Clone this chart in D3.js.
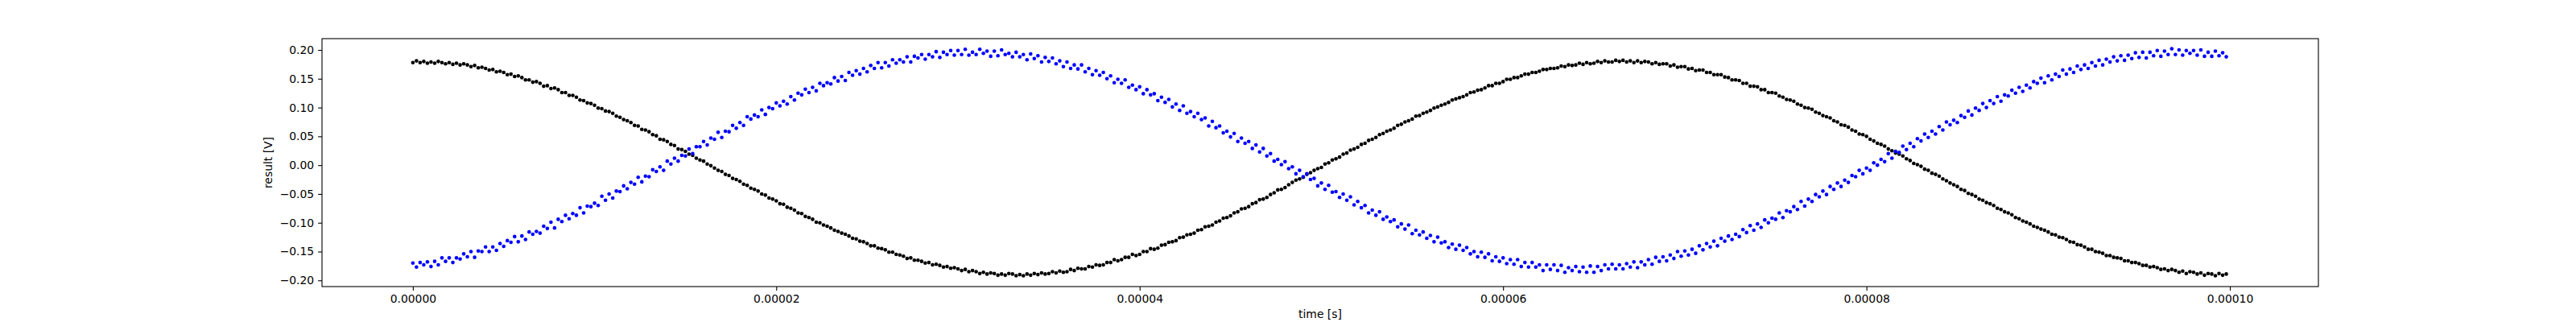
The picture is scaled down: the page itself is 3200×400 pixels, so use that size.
<!DOCTYPE html>
<html>
<head>
<meta charset="utf-8">
<script src="https://cdn.jsdelivr.net/npm/d3@7"></script>
<style>
  body { margin: 0; background: #fff; }
  text { font-family: "DejaVu Sans", sans-serif; }
</style>
</head>
<body>
<div id="chart"></div>
<script>
// sampling step of both channels (s)
const sampleStep = 0.2e-6

// channel 1 (black), volts, one row per microsecond
const blackValues = [
  0.178, 0.181, 0.178, 0.180, 0.177,   0.179, 0.177, 0.180, 0.178, 0.176,
  0.178, 0.175, 0.177, 0.174, 0.176,   0.174, 0.171, 0.173, 0.169, 0.170,
  0.168, 0.165, 0.166, 0.162, 0.163,   0.161, 0.157, 0.158, 0.154, 0.155,
  0.152, 0.148, 0.148, 0.144, 0.145,   0.142, 0.137, 0.138, 0.133, 0.134,
  0.131, 0.126, 0.126, 0.121, 0.121,   0.118, 0.113, 0.112, 0.108, 0.107,
  0.104, 0.099, 0.098, 0.094, 0.093,   0.090, 0.085, 0.083, 0.079, 0.077,
  0.074, 0.069, 0.068, 0.062, 0.061,   0.058, 0.053, 0.051, 0.045, 0.044,
  0.041, 0.036, 0.034, 0.028, 0.027,   0.024, 0.019, 0.017, 0.012, 0.009,
  0.007, 0.002, -0.001, -0.005, -0.009,   -0.011, -0.016, -0.018, -0.023, -0.025,
  -0.028, -0.033, -0.035, -0.040, -0.042,   -0.045, -0.050, -0.052, -0.057, -0.059,
  -0.062, -0.067, -0.068, -0.073, -0.075,   -0.078, -0.083, -0.084, -0.089, -0.091,
  -0.094, -0.099, -0.100, -0.104, -0.106,   -0.109, -0.113, -0.115, -0.118, -0.120,
  -0.123, -0.127, -0.128, -0.132, -0.133,   -0.136, -0.140, -0.140, -0.144, -0.145,
  -0.147, -0.151, -0.151, -0.155, -0.156,   -0.158, -0.162, -0.161, -0.165, -0.165,
  -0.167, -0.170, -0.169, -0.173, -0.172,   -0.174, -0.177, -0.176, -0.179, -0.178,
  -0.180, -0.183, -0.181, -0.185, -0.183,   -0.185, -0.188, -0.186, -0.189, -0.187,
  -0.188, -0.191, -0.189, -0.191, -0.188,   -0.189, -0.192, -0.190, -0.192, -0.189,
  -0.191, -0.188, -0.190, -0.187, -0.189,   -0.188, -0.185, -0.187, -0.184, -0.186,
  -0.185, -0.181, -0.183, -0.179, -0.180,   -0.180, -0.176, -0.177, -0.173, -0.174,
  -0.173, -0.169, -0.169, -0.164, -0.166,   -0.164, -0.160, -0.160, -0.155, -0.157,
  -0.155, -0.150, -0.150, -0.145, -0.146,   -0.144, -0.139, -0.138, -0.134, -0.133,
  -0.131, -0.126, -0.125, -0.121, -0.120,   -0.118, -0.113, -0.112, -0.107, -0.106,
  -0.104, -0.099, -0.097, -0.092, -0.091,   -0.088, -0.083, -0.081, -0.076, -0.075,
  -0.072, -0.067, -0.065, -0.060, -0.059,   -0.056, -0.051, -0.048, -0.043, -0.042,
  -0.039, -0.034, -0.030, -0.026, -0.024,   -0.021, -0.016, -0.013, -0.009, -0.006,
  -0.004, 0.002, 0.004, 0.009, 0.011,   0.014, 0.019, 0.021, 0.026, 0.028,
  0.031, 0.036, 0.038, 0.043, 0.045,   0.048, 0.053, 0.055, 0.059, 0.061,
  0.064, 0.069, 0.071, 0.075, 0.077,   0.080, 0.085, 0.086, 0.090, 0.092,
  0.095, 0.099, 0.101, 0.104, 0.106,   0.109, 0.113, 0.115, 0.117, 0.119,
  0.122, 0.126, 0.127, 0.130, 0.131,   0.134, 0.138, 0.138, 0.142, 0.142,
  0.145, 0.149, 0.149, 0.152, 0.152,   0.155, 0.158, 0.158, 0.161, 0.161,
  0.163, 0.166, 0.166, 0.168, 0.168,   0.169, 0.172, 0.171, 0.174, 0.173,
  0.174, 0.177, 0.175, 0.178, 0.176,   0.177, 0.180, 0.178, 0.181, 0.179,
  0.179, 0.182, 0.180, 0.182, 0.179,   0.181, 0.178, 0.181, 0.178, 0.180,
  0.179, 0.176, 0.178, 0.175, 0.176,   0.176, 0.172, 0.174, 0.170, 0.171,
  0.171, 0.167, 0.168, 0.164, 0.165,   0.165, 0.161, 0.161, 0.157, 0.157,
  0.157, 0.153, 0.152, 0.148, 0.148,   0.147, 0.142, 0.142, 0.137, 0.137,
  0.136, 0.131, 0.131, 0.126, 0.126,   0.125, 0.120, 0.118, 0.114, 0.113,
  0.111, 0.106, 0.104, 0.100, 0.099,   0.097, 0.092, 0.090, 0.086, 0.084,
  0.082, 0.077, 0.075, 0.070, 0.069,   0.066, 0.061, 0.059, 0.054, 0.053,
  0.050, 0.045, 0.042, 0.038, 0.036,   0.033, 0.028, 0.025, 0.021, 0.019,
  0.016, 0.011, 0.008, 0.003, 0.001,   -0.002, -0.007, -0.009, -0.014, -0.016,
  -0.019, -0.024, -0.027, -0.031, -0.034,   -0.037, -0.042, -0.044, -0.049, -0.051,
  -0.054, -0.059, -0.061, -0.065, -0.067,   -0.070, -0.075, -0.077, -0.081, -0.083,
  -0.086, -0.091, -0.093, -0.097, -0.099,   -0.102, -0.106, -0.108, -0.111, -0.113,
  -0.116, -0.120, -0.121, -0.125, -0.126,   -0.129, -0.133, -0.134, -0.138, -0.139,
  -0.142, -0.146, -0.146, -0.150, -0.151,   -0.153, -0.157, -0.157, -0.160, -0.161,
  -0.162, -0.166, -0.166, -0.169, -0.169,   -0.171, -0.174, -0.174, -0.177, -0.176,
  -0.178, -0.181, -0.180, -0.183, -0.181,   -0.183, -0.186, -0.184, -0.188, -0.185,
  -0.186, -0.189, -0.187, -0.191, -0.188,   -0.189, -0.192, -0.188, -0.191, -0.189
]

// channel 2 (blue), volts, noisier
const blueValues = [
  -0.170, -0.177, -0.169, -0.173, -0.168,   -0.176, -0.167, -0.173, -0.161, -0.167,
  -0.161, -0.169, -0.161, -0.163, -0.154,   -0.159, -0.150, -0.160, -0.149, -0.150,
  -0.142, -0.150, -0.142, -0.148, -0.136,   -0.141, -0.131, -0.134, -0.124, -0.133,
  -0.123, -0.129, -0.116, -0.120, -0.115,   -0.118, -0.106, -0.110, -0.099, -0.109,
  -0.094, -0.098, -0.087, -0.093, -0.084,   -0.087, -0.074, -0.083, -0.071, -0.072,
  -0.066, -0.070, -0.054, -0.061, -0.050,   -0.057, -0.045, -0.046, -0.036, -0.041,
  -0.030, -0.033, -0.021, -0.029, -0.019,   -0.020, -0.008, -0.011, -0.003, -0.009,
  0.007, 0.002, 0.012, 0.007, 0.017,   0.016, 0.028, 0.020, 0.032, 0.032,
  0.041, 0.035, 0.047, 0.045, 0.057,   0.048, 0.059, 0.058, 0.069, 0.064,
  0.074, 0.069, 0.084, 0.080, 0.087,   0.084, 0.096, 0.088, 0.100, 0.098,
  0.108, 0.103, 0.111, 0.106, 0.119,   0.113, 0.125, 0.122, 0.132, 0.126,
  0.135, 0.129, 0.142, 0.138, 0.143,   0.141, 0.152, 0.146, 0.154, 0.147,
  0.161, 0.156, 0.164, 0.158, 0.168,   0.162, 0.173, 0.168, 0.178, 0.169,
  0.178, 0.172, 0.183, 0.177, 0.183,   0.179, 0.188, 0.179, 0.189, 0.186,
  0.192, 0.184, 0.192, 0.188, 0.197,   0.187, 0.196, 0.192, 0.199, 0.191,
  0.199, 0.192, 0.201, 0.191, 0.196,   0.192, 0.201, 0.194, 0.198, 0.189,
  0.198, 0.190, 0.200, 0.192, 0.194,   0.188, 0.196, 0.188, 0.192, 0.183,
  0.193, 0.185, 0.190, 0.179, 0.187,   0.180, 0.186, 0.176, 0.181, 0.171,
  0.179, 0.168, 0.174, 0.167, 0.174,   0.162, 0.168, 0.157, 0.164, 0.156,
  0.161, 0.150, 0.155, 0.143, 0.149,   0.142, 0.148, 0.135, 0.139, 0.131,
  0.136, 0.124, 0.131, 0.122, 0.124,   0.112, 0.118, 0.109, 0.114, 0.101,
  0.106, 0.095, 0.103, 0.090, 0.093,   0.084, 0.090, 0.079, 0.082, 0.068,
  0.076, 0.065, 0.068, 0.056, 0.059,   0.049, 0.055, 0.041, 0.047, 0.038,
  0.041, 0.029, 0.035, 0.023, 0.029,   0.016, 0.020, 0.007, 0.010, 0.001,
  0.006, -0.006, -0.003, -0.015, -0.009,   -0.020, -0.015, -0.025, -0.023, -0.036,
  -0.031, -0.042, -0.035, -0.047, -0.046,   -0.056, -0.050, -0.061, -0.055, -0.069,
  -0.063, -0.074, -0.070, -0.083, -0.078,   -0.087, -0.081, -0.094, -0.090, -0.098,
  -0.095, -0.107, -0.102, -0.111, -0.104,   -0.119, -0.113, -0.121, -0.116, -0.127,
  -0.122, -0.133, -0.125, -0.135, -0.133,   -0.143, -0.137, -0.146, -0.139, -0.148,
  -0.143, -0.154, -0.150, -0.159, -0.151,   -0.160, -0.154, -0.166, -0.159, -0.167,
  -0.161, -0.171, -0.164, -0.172, -0.164,   -0.176, -0.169, -0.177, -0.169, -0.177,
  -0.173, -0.183, -0.173, -0.181, -0.173,   -0.183, -0.174, -0.186, -0.178, -0.183,
  -0.176, -0.185, -0.177, -0.186, -0.175,   -0.186, -0.176, -0.183, -0.173, -0.180,
  -0.172, -0.180, -0.173, -0.180, -0.171,   -0.177, -0.168, -0.178, -0.168, -0.173,
  -0.164, -0.172, -0.160, -0.167, -0.159,   -0.166, -0.156, -0.162, -0.150, -0.158,
  -0.149, -0.156, -0.146, -0.153, -0.140,   -0.147, -0.136, -0.142, -0.132, -0.140,
  -0.127, -0.132, -0.123, -0.129, -0.120,   -0.124, -0.112, -0.117, -0.105, -0.113,
  -0.102, -0.108, -0.095, -0.100, -0.092,   -0.094, -0.083, -0.091, -0.079, -0.081,
  -0.072, -0.077, -0.063, -0.071, -0.059,   -0.063, -0.051, -0.055, -0.045, -0.051,
  -0.037, -0.042, -0.031, -0.037, -0.026,   -0.030, -0.018, -0.020, -0.009, -0.015,
  -0.005, -0.009, 0.004, 0.000, 0.010,   0.006, 0.020, 0.012, 0.024, 0.022,
  0.033, 0.027, 0.038, 0.032, 0.046,   0.042, 0.054, 0.048, 0.059, 0.054,
  0.067, 0.061, 0.075, 0.070, 0.078,   0.074, 0.086, 0.083, 0.094, 0.087,
  0.099, 0.095, 0.107, 0.100, 0.112,   0.107, 0.119, 0.111, 0.122, 0.120,
  0.130, 0.125, 0.135, 0.128, 0.139,   0.134, 0.145, 0.142, 0.151, 0.143,
  0.155, 0.148, 0.158, 0.154, 0.165,   0.158, 0.167, 0.161, 0.172, 0.166,
  0.174, 0.168, 0.178, 0.172, 0.182,   0.174, 0.184, 0.179, 0.188, 0.181,
  0.190, 0.182, 0.191, 0.185, 0.195,   0.187, 0.196, 0.186, 0.196, 0.190,
  0.199, 0.189, 0.198, 0.192, 0.202,   0.192, 0.200, 0.191, 0.199, 0.194,
  0.199, 0.191, 0.200, 0.189, 0.196,   0.189, 0.198, 0.190, 0.195, 0.188
]

const xTicks = [0, 0.00002, 0.00004, 0.00006, 0.00008, 0.00010]
const yTicks = [-0.20, -0.15, -0.10, -0.05, 0.00, 0.05, 0.10, 0.15, 0.20]
const xLabel = 'time [s]'
const yLabel = 'result [V]'

// set the dimensions and margins of the graph
const width = 3200
const height = 400
const margin = { top: 48, right: 320, bottom: 44, left: 400 }
const fontSize = 13.9

const svg = d3.select('#chart')
    .append('svg')
    .attr('width', width)
    .attr('height', height)

const time = blackValues.map((v, i) => i * sampleStep)

const x = d3.scaleLinear()
    .domain([-0.0000050, 0.00010487])
    .range([margin.left, width - margin.right])

const y = d3.scaleLinear()
    .domain([-0.2108, 0.2196])
    .range([height - margin.bottom, margin.top])

const minus = s => s.replace('-', '\u2212')

// x axis
svg.append('g')
    .attr('transform', `translate(0,${height - margin.bottom})`)
    .call(d3.axisBottom(x).tickValues(xTicks).tickSize(4.9).tickPadding(4.9)
        .tickFormat(d => d3.format('.5f')(d)))
    .call(g => g.select('.domain').remove())
    .call(g => g.selectAll('line').attr('stroke', '#000').attr('stroke-width', 1.1))
    .call(g => g.selectAll('text').attr('font-size', fontSize).attr('fill', '#000')
        .attr('font-family', 'DejaVu Sans'))

// y axis
svg.append('g')
    .attr('transform', `translate(${margin.left},0)`)
    .call(d3.axisLeft(y).tickValues(yTicks).tickSize(4.9).tickPadding(4.9)
        .tickFormat(d => minus(d3.format('.2f')(d))))
    .call(g => g.select('.domain').remove())
    .call(g => g.selectAll('line').attr('stroke', '#000').attr('stroke-width', 1.1))
    .call(g => g.selectAll('text').attr('font-size', fontSize).attr('fill', '#000')
        .attr('font-family', 'DejaVu Sans'))

// the two channels as dots
const series = [
    { values: blackValues, color: '#000000' },
    { values: blueValues, color: '#0000ff' }
]

series.forEach(s => {
    svg.append('g')
        .selectAll('circle')
        .data(s.values)
        .join('circle')
        .attr('cx', (d, i) => x(time[i]))
        .attr('cy', d => y(d))
        .attr('r', 2.3)
        .attr('fill', s.color)
})

// frame round the plot area
svg.append('rect')
    .attr('x', margin.left)
    .attr('y', margin.top)
    .attr('width', width - margin.left - margin.right)
    .attr('height', height - margin.top - margin.bottom)
    .attr('fill', 'none')
    .attr('stroke', '#000')
    .attr('stroke-width', 1.1)

// axis labels
svg.append('text')
    .attr('x', (margin.left + width - margin.right) / 2)
    .attr('y', 395)
    .attr('text-anchor', 'middle')
    .attr('font-size', fontSize)
    .text(xLabel)

svg.append('text')
    .attr('transform', `translate(338,${(margin.top + height - margin.bottom) / 2}) rotate(-90)`)
    .attr('text-anchor', 'middle')
    .attr('font-size', fontSize)
    .text(yLabel)
</script>
</body>
</html>
